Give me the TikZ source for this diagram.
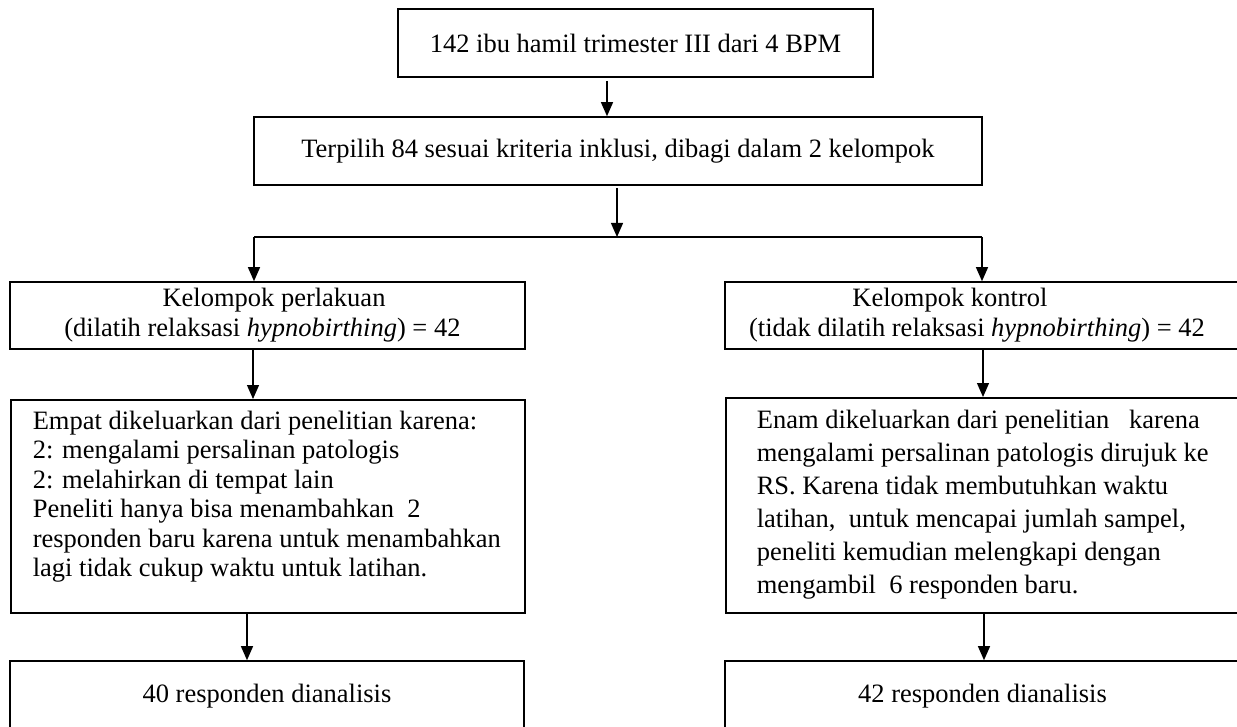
\documentclass[tikz,border=0pt]{standalone}
\usepackage{fontspec}
\setmainfont{Liberation Serif}
\usetikzlibrary{arrows.meta}
\begin{document}
\begin{tikzpicture}[x=1pt,y=-1pt,
  box/.style={draw, line width=1.6pt, rectangle, inner sep=0pt, align=center,
    font=\fontsize{26.5}{30}\selectfont},
  detail/.style={draw, line width=1.6pt, rectangle, inner sep=0pt, anchor=north west},
  arr/.style={line width=1.2pt, -{Triangle[length=14pt,width=12pt]}},
  jline/.style={line width=1.6pt}
  ]
\useasboundingbox (0,0) rectangle (1237,727);
% boxes
\node[box, minimum width=475pt, minimum height=68pt] (b1) at (635.5,43)
  {142 ibu hamil trimester III dari 4 BPM};
\node[box, minimum width=728pt, minimum height=68pt] (b2) at (618,151)
  {Terpilih 84 sesuai kriteria inklusi, dibagi dalam 2 kelompok};
\node[box, minimum width=515pt, minimum height=67pt] (kl) at (267.5,315.5)
  {\rule{13pt}{0pt}Kelompok perlakuan\\(dilatih relaksasi \textit{hypnobirthing}) = 42\rule{10pt}{0pt}};
\node[box, minimum width=515pt, minimum height=67pt] (kr) at (982.5,315.5)
  {Kelompok kontrol\rule{65pt}{0pt}\\(tidak dilatih relaksasi \textit{hypnobirthing}) = 42\rule{11pt}{0pt}};
\node[detail, minimum width=514pt, minimum height=213pt] (dl) at (10,399)
  {\hspace*{10pt}\parbox[c][191pt][t]{480pt}{\raggedright\fontsize{26.5}{29.5}\selectfont
  Empat dikeluarkan dari penelitian karena:\\
  2: mengalami persalinan patologis\\
  2: melahirkan di tempat lain\\
  Peneliti hanya bisa menambahkan\ \ 2\\
  responden baru karena untuk menambahkan\\
  lagi tidak cukup waktu untuk latihan.}};
\node[detail, minimum width=515pt, minimum height=215pt] (dr) at (725,397)
  {\hspace*{27pt}\parbox[c][191pt][t]{480pt}{\raggedright\fontsize{26.5}{33}\selectfont
  Enam dikeluarkan dari penelitian\ \ \ karena\\
  mengalami persalinan patologis dirujuk ke\\
  RS. Karena tidak membutuhkan waktu\\
  latihan,\ \ untuk mencapai jumlah sampel,\\
  peneliti kemudian melengkapi dengan\\
  mengambil\ \ 6 responden baru.}};
\node[box, minimum width=514pt, minimum height=70pt] (bl) at (267,696)
  {40 responden dianalisis};
\node[box, minimum width=515pt, minimum height=70pt] (br) at (982.5,696)
  {42 responden dianalisis};
% connector coordinates
\coordinate (c1) at (607,0);
\coordinate (jm) at (617,237);
\coordinate (jl) at (254,237);
\coordinate (jr) at (982,237);
\coordinate (c5) at (253,0);
\coordinate (c6) at (247,0);
\coordinate (c7) at (983,0);
\coordinate (c8) at (984,0);
% connectors
\draw[arr, shorten <=3pt] (b1.south -| c1) -- (b2.north -| c1);
\draw[arr, shorten <=2pt] (b2.south -| jm) -- (jm);
\draw[jline] (jl) -- (jr);
\draw[arr] (jl) -- (kl.north -| jl);
\draw[arr] (jr) -- (kr.north -| jr);
\draw[arr] (kl.south -| c5) -- (dl.north -| c5);
\draw[arr] (dl.south -| c6) -- (bl.north -| c6);
\draw[arr] (kr.south -| c7) -- (dr.north -| c7);
\draw[arr] (dr.south -| c8) -- (br.north -| c8);
\end{tikzpicture}
\end{document}
